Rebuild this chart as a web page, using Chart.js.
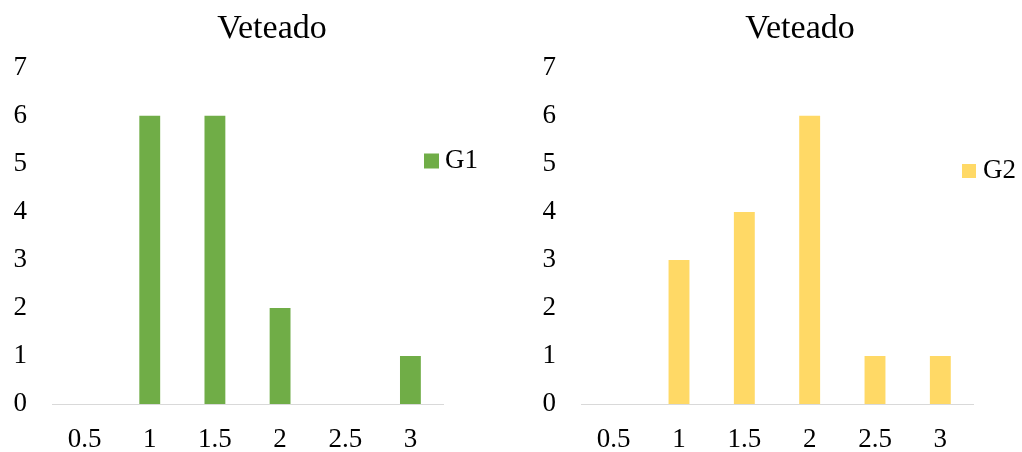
<!DOCTYPE html>
<html>
<head>
<meta charset="utf-8">
<script src="https://cdn.jsdelivr.net/npm/chart.js@4/dist/chart.umd.min.js"></script>
<style>
  html, body { margin: 0; padding: 0; background: #fff; overflow: hidden; width: 1022px; height: 452px; }
  .panel { position: absolute; top: 0; height: 452px; }
  #left { left: 0; width: 544px; }
  #right { left: 540px; width: 520px; }
</style>
</head>
<body>
<div class="panel" id="left"><canvas id="c1" width="544" height="452"></canvas></div>
<div class="panel" id="right"><canvas id="c2" width="520" height="452"></canvas></div>
<script>
// Histogram classes (x) and counts per group
const categories = ['0.5', '1', '1.5', '2', '2.5', '3'];
const g1Values = [0, 6, 6, 2, 0, 1];
const g2Values = [0, 3, 4, 6, 1, 1];
const yTicks = [0, 1, 2, 3, 4, 5, 6, 7];
const chartTitle = 'Veteado';

const SERIF = '"Liberation Serif", "Times New Roman", serif';

// Legend entry drawn beside the plot: a square swatch and the series name
const sideLegend = {
  id: 'sideLegend',
  afterDraw(chart, args, opts) {
    const ctx = chart.ctx;
    const ds = chart.data.datasets[0];
    ctx.save();
    ctx.fillStyle = ds.backgroundColor;
    ctx.fillRect(opts.x, opts.y - opts.box / 2, opts.box, opts.box);
    ctx.fillStyle = '#000';
    ctx.font = '27px ' + SERIF;
    ctx.textBaseline = 'middle';
    ctx.textAlign = 'left';
    ctx.fillText(ds.label, opts.x + opts.box + opts.gap, opts.y);
    ctx.restore();
  }
};

function makeChart(canvasId, label, values, color, geom) {
  return new Chart(document.getElementById(canvasId), {
    type: 'bar',
    data: {
      labels: categories,
      datasets: [{
        label: label,
        data: values,
        backgroundColor: color,
        borderWidth: 0,
        categoryPercentage: 1,
        barPercentage: 0.32
      }]
    },
    options: {
      responsive: false,
      animation: false,
      plugins: {
        legend: { display: false },
        tooltip: { enabled: false },
        title: {
          display: true,
          text: chartTitle,
          color: '#000',
          font: { family: SERIF, size: 34, weight: 'normal', lineHeight: 1.2 },
          padding: { top: 9, bottom: 18 }
        },
        sideLegend: geom.legend
      },
      scales: {
        x: {
          grid: { display: false, drawTicks: false },
          border: { display: true, color: '#d9d9d9', width: 1 },
          ticks: { color: '#000', font: { family: SERIF, size: 27 }, padding: 20, maxRotation: 0 },
          afterFit(s) { s.height = 48; }
        },
        y: {
          min: 0,
          max: yTicks[yTicks.length - 1],
          afterBuildTicks(s) { s.ticks = yTicks.map(v => ({ value: v })); },
          grid: { display: false, drawTicks: false },
          border: { display: false },
          ticks: { color: '#000', font: { family: SERIF, size: 27 }, padding: 25 },
          afterFit(s) { s.width = geom.yWidth; }
        },
        // empty right-hand axis that reserves the space holding the legend
        gutter: {
          type: 'linear',
          position: 'right',
          grid: { display: false, drawTicks: false },
          border: { display: false },
          ticks: { display: false },
          afterFit(s) { s.width = geom.rightGap; }
        }
      }
    },
    plugins: [sideLegend]
  });
}

makeChart('c1', 'G1', g1Values, '#70ad47', {
  rightGap: 101, yWidth: 52,
  legend: { x: 424, y: 161, box: 15, gap: 6 }
});
makeChart('c2', 'G2', g2Values, '#ffd966', {
  rightGap: 87, yWidth: 41,
  legend: { x: 422, y: 171, box: 14, gap: 7 }
});
</script>
</body>
</html>
